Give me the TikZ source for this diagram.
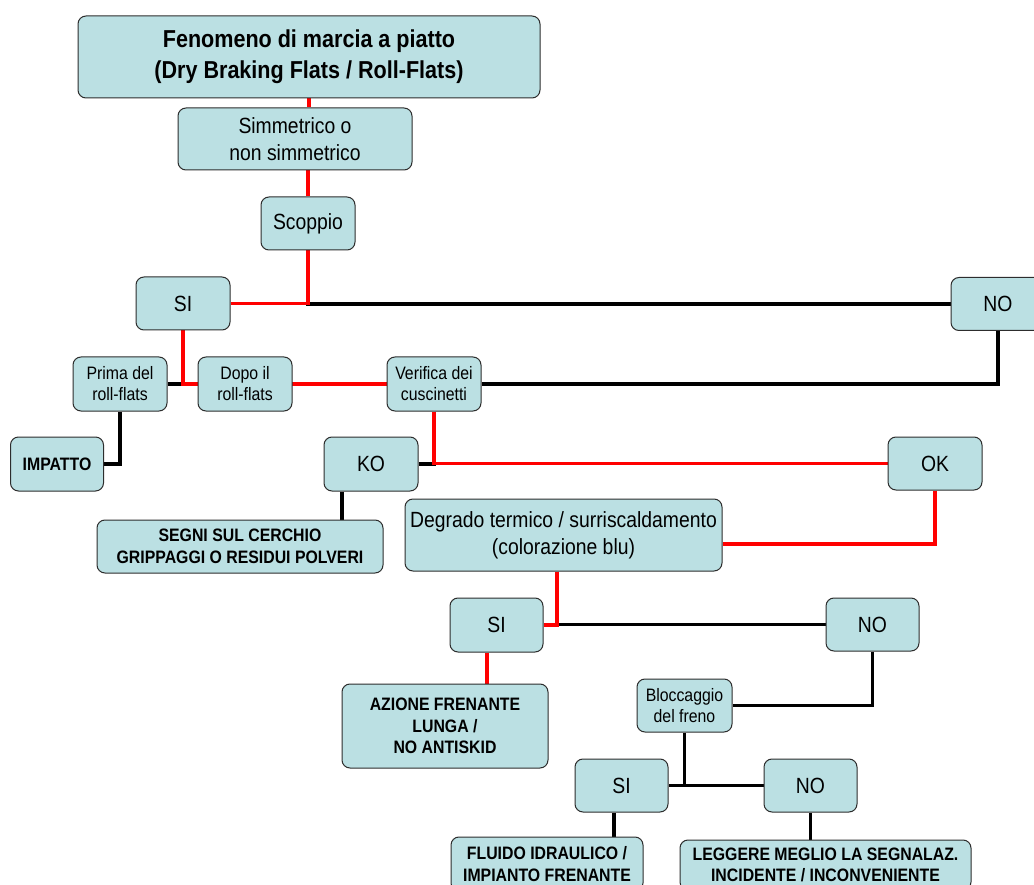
\documentclass[tikz,border=0pt]{standalone}
\usepackage{fontspec}
\setmainfont[FakeStretch=0.88]{Liberation Sans}
\usetikzlibrary{backgrounds}
\definecolor{boxfill}{RGB}{187,224,227}
\definecolor{boxline}{RGB}{45,45,45}
\definecolor{redline}{RGB}{255,0,0}
\begin{document}
\begin{tikzpicture}[x=1pt,y=-1pt,
  box/.style={draw=boxline, line width=1pt, fill=boxfill, rounded corners=8pt, inner sep=0pt, align=center},
  titlebox/.style={box, font=\bfseries\fontsize{24.5}{31}\selectfont},
  bigbox/.style={box, font=\fontsize{22}{27}\selectfont},
  smallbox/.style={box, font=\fontsize{18}{21}\selectfont},
  boldbox/.style={box, font=\bfseries\fontsize{18}{21.5}\selectfont},
  redlink/.style={draw=redline, line width=3.6pt},
  blacklink/.style={draw=black, line width=3.6pt}]
\useasboundingbox (0,0) rectangle (1034,885);
\clip (0,0) rectangle (1034,885);

\node[titlebox, minimum width=462pt, minimum height=82pt] (title) at (309,57) {Fenomeno di marcia a piatto\\(Dry Braking Flats / Roll-Flats)};
\node[bigbox, minimum width=234pt, minimum height=62pt] (sim) at (295,139) {Simmetrico o\\non simmetrico};
\node[bigbox, minimum width=94pt, minimum height=53pt] (scoppio) at (308,223.5) {Scoppio};
\node[bigbox, minimum width=94pt, minimum height=53pt] (si1) at (183,303.5) {SI};
\node[bigbox, minimum width=94pt, minimum height=53pt] (no1) at (998,304) {NO};
\node[smallbox, minimum width=94pt, minimum height=54pt] (prima) at (120,384) {Prima del\\roll-flats};
\node[smallbox, minimum width=94pt, minimum height=54pt] (dopo) at (245,384) {Dopo il\\roll-flats};
\node[smallbox, minimum width=94pt, minimum height=54pt] (verifica) at (434,384) {Verifica dei\\cuscinetti};
\node[boldbox, minimum width=93pt, minimum height=54pt] (impatto) at (57,464) {IMPATTO};
\node[bigbox, minimum width=94pt, minimum height=54pt] (ko) at (371,464) {KO};
\node[bigbox, minimum width=94pt, minimum height=53pt] (ok) at (935,463.5) {OK};
\node[boldbox, minimum width=286pt, minimum height=53pt] (segni) at (240,546.5) {SEGNI SUL CERCHIO\\GRIPPAGGI O RESIDUI POLVERI};
\node[bigbox, minimum width=317pt, minimum height=72pt] (degrado) at (563.5,535) {Degrado termico / surriscaldamento\\(colorazione blu)};
\node[bigbox, minimum width=93pt, minimum height=54pt] (si2) at (496.5,625) {SI};
\node[bigbox, minimum width=93pt, minimum height=53pt] (no2) at (872.5,624.5) {NO};
\node[boldbox, minimum width=206pt, minimum height=84pt] (azione) at (445,726) {AZIONE FRENANTE\\LUNGA /\\NO ANTISKID};
\node[smallbox, minimum width=95pt, minimum height=53pt] (blocc) at (684.5,705.5) {Bloccaggio\\del freno};
\node[bigbox, minimum width=93pt, minimum height=53pt] (si3) at (621.5,785.5) {SI};
\node[bigbox, minimum width=93pt, minimum height=53pt] (no3) at (810.5,785.5) {NO};
\node[boldbox, minimum width=192pt, minimum height=54pt] (fluido) at (547,864) {FLUIDO IDRAULICO /\\IMPIANTO FRENANTE};
\node[boldbox, minimum width=291pt, minimum height=50pt] (leggere) at (825.5,865) {LEGGERE MEGLIO LA SEGNALAZ.\\INCIDENTE / INCONVENIENTE};

\begin{scope}[on background layer]
\draw[redlink] (title.south) -- (title.south |- sim.north);
\draw[redlink] (scoppio.north) -- (scoppio.north |- sim.south);
\draw[blacklink] (scoppio.south) |- (no1.west);
\draw[redlink] (scoppio.south) |- (si1.east);
\draw[blacklink] (si1.south) |- (prima.east);
\draw[redlink] (si1.south) |- (dopo.east);
\draw[redlink] (dopo.east) -- (verifica.west);
\draw[blacklink] (verifica.east) -| (no1.south);
\draw[blacklink] (prima.south) |- (impatto.east);
\draw[blacklink] (verifica.south) |- (ko.east);
\draw[redlink] (verifica.south) |- (ok.west);
\draw[blacklink] ([xshift=-29pt]ko.south) -- ([xshift=-29pt]ko.south |- segni.north);
\draw[redlink] (ok.south) |- ([yshift=-9pt]degrado.east);
\draw[blacklink] ([xshift=-6.5pt]degrado.south) |- (no2.west);
\draw[redlink] ([xshift=-6.5pt]degrado.south) |- (si2.east);
\draw[redlink] ([xshift=-9.5pt]si2.south) -- ([xshift=-9.5pt]si2.south |- azione.north);
\draw[blacklink] (no2.south) |- (blocc.east);
\draw[blacklink] (blocc.south) |- (si3.east);
\draw[blacklink] (blocc.south) |- (no3.west);
\draw[blacklink] ([xshift=-7.5pt]si3.south) -- ([xshift=-7.5pt]si3.south |- fluido.north);
\draw[blacklink] (no3.south) -- (no3.south |- leggere.north);
\end{scope}
\end{tikzpicture}
\end{document}
